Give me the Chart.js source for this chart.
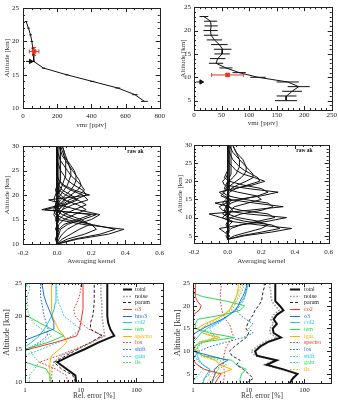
<!DOCTYPE html>
<html>
<head>
<meta charset="utf-8">
<title>vmr profiles, averaging kernels and error budgets</title>
<script src="https://cdn.jsdelivr.net/npm/chart.js@4.4.1/dist/chart.umd.min.js"></script>
<style>
  body { margin: 0; background: #fff; }
  #wrap { position: relative; width: 338px; height: 401px; overflow: hidden; background: #fff; }
  canvas { position: absolute; }
</style>
</head>
<body>
<div id="wrap">
  <canvas id="vmrLeft"></canvas>
  <canvas id="vmrRight"></canvas>
  <canvas id="akLeft"></canvas>
  <canvas id="akRight"></canvas>
  <canvas id="errLeft"></canvas>
  <canvas id="errRight"></canvas>
</div>
<script>
"use strict";

// ---------- top row: vmr profiles ----------
const vmrAltL = [23, 22, 21, 20, 19, 18, 17, 16, 15, 14, 13, 12, 11];
const vmrL = [18, 32, 44, 52, 57, 60, 63, 120, 255, 405, 555, 655, 710];
const vmrErrL = [8, 8, 8, 8, 8, 8, 8, 10, 10, 12, 14, 16, 20];
const satL = { x: [65], y: [18.5], xErr: [28], yErr: [0.6] };
const arrowL = { x: [18, 45], y: [17, 17] };

const vmrAltR = [23, 22, 21, 20, 19, 18, 17, 16, 15, 14, 13, 12, 11, 10, 9, 8, 7, 6, 5];
const vmrR = [18, 30, 31, 30, 31, 37, 46, 52, 51, 43, 40, 58, 82, 116, 170, 190, 178, 168, 167];
const vmrErrR = [8, 12, 12, 13, 13, 14, 15, 16, 14, 14, 13, 12, 12, 14, 20, 20, 18, 18, 20];
const satR = { x: [61], y: [10.5], xErr: [29], yErr: [0.25] };
const arrowR = { x: [4, 13], y: [9, 9] };

const vmrTicksL = [0, 200, 400, 600, 800];
const vmrTicksR = [0, 50, 100, 150, 200, 250];

// ---------- middle row: averaging kernels ----------
const akAltL = [10, 11, 12, 13, 14, 15, 16, 17, 18, 19, 20, 21, 22, 23, 24, 25, 26, 27, 28, 29, 30];
const akL = [
  [0, .12, .30, .39, .15, 0, -.02, -.01, 0, 0, 0, 0, 0, 0, 0, 0, 0, 0, 0, 0, 0],
  [0, .10, .25, .34, .20, .05, -.01, -.02, -.01, 0, 0, 0, 0, 0, 0, 0, 0, 0, 0, 0, 0],
  [0, .06, .16, .23, .20, .10, .03, -.01, -.01, 0, 0, 0, 0, 0, 0, 0, 0, 0, 0, 0, 0],
  [0, .03, .08, .13, .19, .14, .06, .01, 0, 0, 0, 0, 0, 0, 0, 0, 0, 0, 0, 0, 0],
  [0, .01, .03, .06, .11, .20, .25, .12, .01, -.02, -.01, 0, 0, 0, 0, 0, 0, 0, 0, 0, 0],
  [0, 0, .01, .02, .06, .15, .23, -.09, .02, .05, .02, 0, 0, 0, 0, 0, 0, 0, 0, 0, 0],
  [0, 0, 0, .01, .04, .12, .20, -.07, .05, .12, .08, .03, .01, 0, 0, 0, 0, 0, 0, 0, 0],
  [0, 0, 0, 0, .01, .04, .10, .17, .12, .04, 0, -.01, 0, 0, 0, 0, 0, 0, 0, 0, 0],
  [0, 0, 0, 0, 0, .01, .04, .10, .17, .12, .05, .01, 0, 0, 0, 0, 0, 0, 0, 0, 0],
  [0, 0, 0, 0, 0, 0, .01, .03, .05, -.05, .19, .10, .04, .01, 0, 0, 0, 0, 0, 0, 0],
  [0, 0, 0, 0, 0, 0, .01, .03, .09, .18, .15, .08, .03, .01, 0, 0, 0, 0, 0, 0, 0],
  [0, 0, 0, 0, 0, 0, 0, .01, .04, .10, .17, .15, .10, .06, .04, .02, .01, 0, 0, 0, 0],
  [0, 0, 0, 0, 0, 0, 0, .01, .03, .07, .13, .16, .14, .11, .08, .06, .04, .02, .01, 0, 0],
  [0, 0, 0, 0, 0, 0, 0, 0, .01, .04, .08, .12, .14, .13, .11, .09, .07, .05, .03, .02, .01],
  [0, 0, 0, 0, 0, 0, 0, 0, 0, .02, .05, .08, .10, .11, .11, .10, .08, .06, .04, .03, .02],
  [0, 0, 0, 0, 0, 0, 0, 0, 0, 0, .02, .04, .06, .07, .08, .08, .07, .06, .05, .04, .03],
  [0, 0, 0, 0, 0, 0, 0, 0, 0, 0, 0, .02, .03, .04, .05, .05, .05, .05, .04, .04, .03],
  [0, 0, .01, -.01, 0, .01, 0, -.01, 0, .01, .01, .01, .01, .02, .02, .02, .02, .02, .02, .02, .02],
  [0, -.01, 0, .01, 0, -.01, 0, 0, .01, 0, 0, .01, .01, .01, .01, .01, .01, .01, .01, .01, .01],
];

const akAltR = [4, 5, 6, 7, 8, 9, 10, 11, 12, 13, 14, 15, 16, 17, 18, 19, 20, 21, 22, 23, 24, 25, 26, 27, 28, 29, 30];
const akR = [
  [0, .10, .26, .38, .18, .01, -.03, -.01, 0, 0, 0, 0, 0, 0, 0, 0, 0, 0, 0, 0, 0, 0, 0, 0, 0, 0, 0],
  [0, .08, .20, .31, .26, .10, .01, -.03, -.01, 0, 0, 0, 0, 0, 0, 0, 0, 0, 0, 0, 0, 0, 0, 0, 0, 0, 0],
  [0, .04, .12, .20, .24, .18, .06, 0, -.02, -.01, 0, 0, 0, 0, 0, 0, 0, 0, 0, 0, 0, 0, 0, 0, 0, 0, 0],
  [0, .01, -.02, -.05, .08, .24, .35, .12, -.03, -.05, -.01, 0, 0, 0, 0, 0, 0, 0, 0, 0, 0, 0, 0, 0, 0, 0, 0],
  [0, 0, 0, .02, .08, .18, .28, .24, .08, -.01, -.03, -.01, 0, 0, 0, 0, 0, 0, 0, 0, 0, 0, 0, 0, 0, 0, 0],
  [0, 0, 0, 0, .01, .03, -.04, -.11, .12, .33, .16, .01, -.04, -.02, 0, 0, 0, 0, 0, 0, 0, 0, 0, 0, 0, 0, 0],
  [0, 0, 0, 0, 0, 0, .02, .08, .20, .27, .24, .10, 0, -.03, -.01, 0, 0, 0, 0, 0, 0, 0, 0, 0, 0, 0, 0],
  [0, 0, 0, 0, 0, 0, 0, 0, .02, .04, .12, .20, .17, .06, -.02, -.01, 0, 0, 0, 0, 0, 0, 0, 0, 0, 0, 0],
  [0, 0, 0, 0, 0, 0, 0, .01, .03, .01, -.075, .06, .20, .30, .12, -.02, -.03, -.01, 0, 0, 0, 0, 0, 0, 0, 0, 0],
  [0, 0, 0, 0, 0, 0, 0, 0, 0, 0, .02, .08, .18, .24, .20, .09, .01, -.02, -.01, 0, 0, 0, 0, 0, 0, 0, 0],
  [0, 0, 0, 0, 0, 0, 0, 0, 0, 0, .01, .02, -.02, -.05, .04, .15, .22, .16, .09, .05, .03, .01, 0, 0, 0, 0, 0],
  [0, 0, 0, 0, 0, 0, 0, 0, 0, 0, 0, 0, 0, .01, .05, .12, .19, .18, .14, .10, .07, .05, .03, .02, .01, 0, 0],
  [0, 0, 0, 0, 0, 0, 0, 0, 0, 0, 0, 0, 0, 0, .02, .06, .11, .15, .15, .13, .11, .09, .07, .05, .03, .02, .01],
  [0, 0, 0, 0, 0, 0, 0, 0, 0, 0, 0, 0, 0, 0, 0, .02, .05, .08, .10, .11, .11, .10, .09, .07, .05, .04, .03],
  [0, 0, 0, 0, 0, 0, 0, 0, 0, 0, 0, 0, 0, 0, 0, 0, .01, .03, .05, .06, .07, .07, .07, .06, .05, .04, .03],
  [0, .01, -.01, .01, 0, .01, -.01, .01, 0, -.01, .01, 0, .01, 0, .01, .01, .01, .01, .02, .02, .02, .02, .02, .02, .02, .02, .02],
  [0, -.01, .01, 0, -.01, 0, .01, -.01, 0, .01, -.01, .01, 0, 0, .01, 0, .01, .01, .01, .01, .01, .01, .01, .01, .01, .01, .01],
];
const akTicks = [-0.2, 0, 0.2, 0.4, 0.6];

// ---------- bottom row: relative errors [%] ----------
const errAltL = [10, 11, 12, 13, 14, 15, 16, 17, 18, 19, 20, 21, 22, 23, 24, 25];
const errL = {
  total:   [8.3, 8.0, 5.5, 3.8, 6.5, 12, 21, 40, 34, 31, 30, 30, 30, 30, 30, 30],
  noise:   [3.0, 3.0, 3.1, 3.3, 4.5, 9, 16, 27, 26, 25, 24, 24, 24, 23, 23, 23],
  param:   [8.0, 7.2, 4.5, 3.3, 5.5, 9, 15, 24, 15, 15, 16.5, 17, 17.5, 17.5, 17.5, 17.5],
  o3:      [0.5, 0.5, 0.5, 0.5, 0.5, 1.2, 3.5, 8.5, 9.5, 10, 10.5, 11, 11, 11, 11, 11],
  hno3:    [0.5, 0.5, 0.5, 0.5, 0.5, 0.5, 0.8, 1.6, 3.2, 3.3, 3.0, 2.7, 2.4, 2.2, 2.1, 2.0],
  col2:    [0.5, 0.5, 0.5, 0.5, 0.5, 0.9, 1.3, 1.8, 2.2, 2.6, 3.0, 3.3, 3.5, 3.6, 3.6, 3.6],
  tem:     [2.8, 2.8, 2.4, 1.0, 0.7, 1.0, 2.6, 5.0, 3.0, 1.8, 1.1, 0.8, 0.8, 0.9, 1.0, 1.1],
  spectro: [2.9, 2.8, 2.8, 2.8, 3.0, 4.2, 5.6, 5.0, 4.0, 3.5, 3.1, 3.0, 3.0, 3.0, 3.0, 3.0],
  los:     [5.8, 5.5, 3.5, 1.8, 4.0, 8.0, 15, 26, 14, 10, 8, 7.5, 8.5, 9.5, 10, 10],
  shift:   [0.5, 0.5, 0.5, 0.5, 0.8, 1.1, 1.8, 2.5, 2.6, 2.4, 2.2, 2.1, 2.0, 1.9, 1.9, 1.9],
  gain:    [0.5, 0.5, 0.5, 0.8, 1.0, 2.0, 4.0, 7.0, 10, 7, 5, 4.5, 4.0, 3.8, 3.7, 3.7],
  ils:     [1.2, 1.2, 1.5, 1.8, 1.4, 1.2, 2.0, 3.0, 2.0, 1.4, 1.2, 1.1, 1.1, 1.1, 1.2, 1.2],
};

const errAltR = [3, 4, 5, 6, 7, 8, 9, 10, 11, 12, 13, 14, 15, 16, 17, 18, 19, 20, 21, 22, 23, 24, 25];
const errR = {
  total:   [55, 62, 75, 42, 21, 32, 14, 13, 16, 22, 38, 28, 27, 32, 28, 32, 42, 36, 30, 30, 30, 30, 30],
  noise:   [54, 60, 72, 38, 19, 29, 13, 11, 14, 19, 32, 24, 24, 28, 25, 28, 35, 30, 26, 25, 25, 24, 24],
  param:   [9, 12, 10, 8, 6, 7, 5, 4.5, 5.5, 7, 9, 10, 9, 9.5, 10.5, 12, 13, 15, 17, 17.5, 18, 19, 19],
  co2:     [2.5, 2.8, 3.2, 1.6, 1.2, 1.0, 0.8, 0.8, 0.8, 0.8, 1.1, 0.8, 0.8, 0.8, 0.9, 1.0, 1.3, 1.4, 1.2, 1.1, 1.1, 1.1, 1.1],
  o3:      [2.2, 2.3, 2.5, 2.4, 3.0, 4.2, 2.0, 1.0, 0.8, 0.8, 0.9, 1.1, 1.5, 2.2, 3.3, 4.5, 5.8, 6.5, 7.0, 7.8, 8.5, 9.0, 9.5],
  col2:    [1.5, 1.6, 1.8, 2.0, 1.5, 1.3, 1.2, 1.1, 1.0, 1.0, 1.2, 1.4, 1.8, 2.5, 3.5, 4.5, 5.5, 6.5, 7.5, 8.5, 9.0, 9.5, 10],
  tem:     [7, 7, 7.5, 9, 6, 5, 1.5, 1.1, 1.0, 1.5, 5.5, 2.0, 1.1, 1.1, 1.2, 3.5, 7, 8.5, 4, 1.5, 0.9, 0.9, 0.9],
  tgas:    [2.2, 2.4, 3.0, 5.0, 3.0, 2.5, 1.5, 1.2, 1.1, 1.3, 3.0, 1.5, 1.2, 1.6, 2.5, 3.5, 4.5, 5.0, 5.5, 6.0, 6.3, 6.5, 6.5],
  spectro: [3.5, 3.6, 3.7, 3.6, 3.5, 3.5, 3.6, 3.7, 4.0, 4.5, 5.5, 5.0, 4.8, 4.5, 3.8, 3.5, 3.3, 3.2, 3.1, 3.1, 3.1, 3.2, 3.2],
  los:     [1.5, 1.6, 2.0, 2.0, 1.5, 1.2, 1.1, 1.3, 2.0, 4.0, 8.0, 12, 10, 12, 9, 7, 6, 7, 8, 8.5, 9, 9.2, 9.4],
  shift:   [1.0, 1.1, 1.3, 1.5, 1.2, 1.0, 1.1, 1.3, 1.2, 1.5, 2.5, 2.2, 2.0, 2.8, 3.5, 4.5, 5.0, 5.5, 6.0, 6.8, 7.5, 8.0, 8.2],
  gain:    [2.0, 2.3, 2.5, 2.8, 4.0, 3.0, 1.5, 1.2, 1.2, 1.6, 3.0, 2.0, 1.5, 1.8, 2.5, 3.5, 4.5, 5.0, 5.5, 6.0, 6.5, 7.0, 7.5],
  ils:     [1.8, 2.0, 2.2, 2.5, 3.5, 2.5, 1.3, 1.1, 1.1, 1.3, 2.5, 1.5, 1.4, 2.0, 2.8, 3.8, 4.8, 5.2, 5.8, 6.5, 7.0, 7.5, 8.0],
};
const errTicks = [1, 10, 100];
const logMinor = [2, 3, 4, 5, 6, 7, 8, 9, 20, 30, 40, 50, 60, 70, 80, 90, 200, 300];

// colours
const RED = "#ea3327", BLUE = "#1f6fd8", CYAN = "#1ec8e4", GREEN = "#2fd85a", ORANGE = "#ffb000";
const DOT = [1.6, 1.6], DASH = [3, 2];

Chart.defaults.font.family = '"Liberation Serif", "DejaVu Serif", serif';
Chart.defaults.color = "#222";

function every(from, to, step) {
  const out = [];
  for (let v = from; v <= to + 1e-9; v += step) out.push(+v.toFixed(4));
  return out;
}

// frame with inward ticks on all four sides (IDL look)
const boxTicks = {
  id: "boxTicks",
  afterDraw(chart, args, opts) {
    const { ctx, chartArea: a } = chart;
    const xs = chart.scales.x, ys = chart.scales.y;
    ctx.save();
    ctx.strokeStyle = "#222";
    ctx.lineWidth = 1;
    const mark = (scale, v, len) => {
      const p = Math.round(scale.getPixelForValue(v)) + 0.5;
      ctx.beginPath();
      if (scale.isHorizontal()) {
        ctx.moveTo(p, a.bottom); ctx.lineTo(p, a.bottom - len);
        ctx.moveTo(p, a.top); ctx.lineTo(p, a.top + len);
      } else {
        ctx.moveTo(a.left, p); ctx.lineTo(a.left + len, p);
        ctx.moveTo(a.right, p); ctx.lineTo(a.right - len, p);
      }
      ctx.stroke();
    };
    xs.ticks.forEach((t) => mark(xs, t.value, 4));
    ys.ticks.forEach((t) => mark(ys, t.value, 4));
    (opts.xMinor || []).forEach((v) => mark(xs, v, 2));
    (opts.yMinor || []).forEach((v) => mark(ys, v, 2));
    ctx.strokeRect(Math.round(a.left) + 0.5, Math.round(a.top) + 0.5, Math.round(a.width), Math.round(a.height));
    ctx.restore();
  },
};

// horizontal (and optional vertical) error bars, read from dataset.xErr / yErr
const errorBars = {
  id: "errorBars",
  afterDatasetsDraw(chart) {
    const { ctx } = chart;
    const xs = chart.scales.x, ys = chart.scales.y;
    ctx.save();
    chart.data.datasets.forEach((ds) => {
      if (!ds.xErr) return;
      const cap = ds.cap || 0;
      ctx.strokeStyle = ds.borderColor;
      ctx.lineWidth = 1;
      ds.data.forEach((p, i) => {
        const y = ys.getPixelForValue(p.y);
        const x0 = xs.getPixelForValue(p.x - ds.xErr[i]);
        const x1 = xs.getPixelForValue(p.x + ds.xErr[i]);
        ctx.beginPath();
        ctx.moveTo(x0, y); ctx.lineTo(x1, y);
        if (cap) {
          ctx.moveTo(x0, y - cap); ctx.lineTo(x0, y + cap);
          ctx.moveTo(x1, y - cap); ctx.lineTo(x1, y + cap);
        }
        if (ds.yErr) {
          const x = xs.getPixelForValue(p.x);
          const ya = ys.getPixelForValue(p.y - ds.yErr[i]);
          const yb = ys.getPixelForValue(p.y + ds.yErr[i]);
          ctx.moveTo(x, ya); ctx.lineTo(x, yb);
          ctx.moveTo(x - cap, ya); ctx.lineTo(x + cap, ya);
          ctx.moveTo(x - cap, yb); ctx.lineTo(x + cap, yb);
        }
        ctx.stroke();
      });
    });
    ctx.restore();
  },
};

// legend drawn inside the plot box, top right
const insideLegend = {
  id: "insideLegend",
  afterDraw(chart, args, opts) {
    if (!opts.show) return;
    const { ctx, chartArea: a } = chart;
    ctx.save();
    ctx.font = '6px "Liberation Serif", serif';
    ctx.textBaseline = "middle";
    chart.data.datasets.forEach((ds, i) => {
      const y = Math.round(a.top + opts.top + i * opts.step) + 0.5;
      ctx.strokeStyle = ds.borderColor;
      ctx.lineWidth = ds.borderWidth;
      ctx.setLineDash(ds.borderDash || []);
      ctx.beginPath();
      ctx.moveTo(a.right - opts.x0, y); ctx.lineTo(a.right - opts.x1, y);
      ctx.stroke();
      ctx.fillStyle = ds.labelColor || ds.borderColor;
      ctx.fillText(ds.label, a.right - opts.tx, y);
    });
    ctx.restore();
  },
};

// small bold tag in the upper right corner of the kernel plots
const cornerTag = {
  id: "cornerTag",
  afterDraw(chart, args, opts) {
    if (!opts.text) return;
    const { ctx, chartArea: a } = chart;
    ctx.save();
    ctx.font = 'bold 5.5px "Liberation Serif", serif';
    ctx.textAlign = "right";
    ctx.textBaseline = "middle";
    ctx.fillStyle = "#111";
    ctx.fillText(opts.text, a.right - 16, a.top + 6);
    ctx.restore();
  },
};

function axis(o) {
  return {
    type: o.type || "linear",
    min: o.min,
    max: o.max,
    afterFit(s) { if (s.isHorizontal()) s.height = o.size; else s.width = o.size; },
    afterBuildTicks(s) { s.ticks = o.ticks.map((v) => ({ value: v })); },
    grid: { display: false, drawTicks: false },
    border: { display: false },
    ticks: {
      autoSkip: false, maxRotation: 0, padding: o.pad, color: "#222",
      font: { size: 7 },
      callback: o.fmt || ((v) => String(v)),
    },
    title: {
      display: true, text: o.title, color: "#333",
      font: { size: o.titleSize || 7 },
      padding: o.titlePad,
    },
  };
}

function line(label, xs, ys, color, width, dash) {
  return {
    label,
    data: xs.map((v, i) => ({ x: v, y: ys[i] })),
    showLine: true,
    borderColor: color,
    backgroundColor: color,
    borderWidth: width,
    borderDash: dash || [],
    pointRadius: 0,
    tension: 0,
  };
}

function panel(id, box, datasets, xAxis, yAxis, plug) {
  const cv = document.getElementById(id);
  cv.width = box.w;
  cv.height = box.h;
  cv.style.left = box.left + "px";
  cv.style.top = box.top + "px";
  return new Chart(cv, {
    type: "scatter",
    data: { datasets },
    options: {
      responsive: false,
      animation: false,
      events: [],
      layout: { padding: { top: box.pt, right: box.pr, left: 0, bottom: 0 } },
      scales: { x: axis(xAxis), y: axis(yAxis) },
      plugins: Object.assign({ legend: { display: false }, tooltip: { enabled: false } }, plug),
    },
    plugins: [boxTicks, errorBars, insideLegend, cornerTag],
  });
}

function profileSets(alt, vmr, err, sat, arrow) {
  const prof = line("profile", vmr, alt, "#111", 1);
  prof.xErr = err;
  const s = line("satellite", sat.x, sat.y, RED, 1);
  s.showLine = false;
  s.pointStyle = "rect";
  s.pointRadius = 2.5;
  s.xErr = sat.xErr;
  s.yErr = sat.yErr;
  s.cap = 2;
  const ar = line("arrow", arrow.x, arrow.y, "#111", 1);
  ar.pointStyle = "triangle";
  ar.pointRadius = [0, 2.5];
  ar.rotation = 90;
  return [s, prof, ar];
}

// ---------- top row ----------
panel("vmrLeft", { left: 0, top: 0, w: 169, h: 129, pt: 8, pr: 6 },
  profileSets(vmrAltL, vmrL, vmrErrL, satL, arrowL),
  { min: 0, max: 800, ticks: vmrTicksL, size: 21, pad: 4, title: "vmr [pptv]", titlePad: { top: 0, bottom: 0 } },
  { min: 10, max: 25, ticks: [10, 15, 20, 25], size: 23, pad: 4, title: "Altitude [km]", titlePad: { top: 3, bottom: 0 } },
  { boxTicks: { xMinor: every(0, 800, 50), yMinor: every(10, 25, 1) } });

panel("vmrRight", { left: 176, top: 0, w: 162, h: 129, pt: 7, pr: 5 },
  profileSets(vmrAltR, vmrR, vmrErrR, satR, arrowR),
  { min: 0, max: 250, ticks: vmrTicksR, size: 19, pad: 1, title: "vmr [pptv]", titlePad: { top: 0, bottom: 2 } },
  { min: 3, max: 25, ticks: [5, 10, 15, 20, 25], size: 18, pad: 3, title: "Altitude [km]", titlePad: { top: 3, bottom: 0 } },
  { boxTicks: { xMinor: every(0, 250, 10), yMinor: every(3, 25, 1) } });

// ---------- middle row ----------
const akFmt = (v) => v.toFixed(1);
panel("akLeft", { left: 0, top: 130, w: 169, h: 136, pt: 16, pr: 6 },
  akL.map((k, i) => line("ak" + i, k, akAltL, "#111", 1)),
  { min: -0.2, max: 0.6, ticks: akTicks, size: 22, pad: 5, fmt: akFmt, title: "Averaging kernel", titlePad: { top: 0, bottom: 1 } },
  { min: 10, max: 30, ticks: [10, 15, 20, 25, 30], size: 23, pad: 4, title: "Altitude [km]", titlePad: { top: 3, bottom: 0 } },
  { boxTicks: { xMinor: every(-0.2, 0.6, 0.05), yMinor: every(10, 30, 1) }, cornerTag: { text: "raw ak" } });

panel("akRight", { left: 172, top: 130, w: 166, h: 136, pt: 15, pr: 6 },
  akR.map((k, i) => line("ak" + i, k, akAltR, "#111", 1)),
  { min: -0.2, max: 0.6, ticks: akTicks, size: 23, pad: 5, fmt: akFmt, title: "Averaging kernel", titlePad: { top: 0, bottom: 1 } },
  { min: 3, max: 30, ticks: [5, 10, 15, 20, 25, 30], size: 22, pad: 2, title: "Altitude [km]", titlePad: { top: 4, bottom: 0 } },
  { boxTicks: { xMinor: every(-0.2, 0.6, 0.05), yMinor: every(3, 30, 1) }, cornerTag: { text: "raw ak" } });

// ---------- bottom row ----------
function errSets(e, alt, names) {
  const styles = {
    total: ["#111", 2, []], noise: ["#9a9a9a", 1.5, DOT], param: ["#222", 1, DASH],
  };
  return names.map(([name, color, dash]) => {
    const st = styles[name] || [color, 1, dash];
    const ds = line(name, e[name], alt, st[0], st[1], st[2]);
    if (styles[name]) ds.labelColor = "#222";
    return ds;
  });
}

const legendOpts = { show: true, top: 6, step: 6.67, x0: 40, x1: 31, tx: 28 };

panel("errLeft", { left: 0, top: 266, w: 169, h: 135, pt: 17, pr: 6 },
  errSets(errL, errAltL, [
    ["total"], ["noise"], ["param"],
    ["o3", RED, []], ["hno3", BLUE, []], ["col2", CYAN, []], ["tem", GREEN, []], ["spectro", ORANGE, []],
    ["los", RED, DOT], ["shift", BLUE, DOT], ["gain", CYAN, DOT], ["ils", GREEN, DOT],
  ]),
  { type: "logarithmic", min: 1, max: 300, ticks: errTicks, size: 19, pad: 4, title: "Rel. error [%]", titleSize: 7.5, titlePad: { top: 0, bottom: 0 } },
  { min: 10, max: 25, ticks: [10, 15, 20, 25], size: 25, pad: 3, title: "Altitude [km]", titleSize: 8.5, titlePad: { top: 2, bottom: 0 } },
  { boxTicks: { xMinor: logMinor, yMinor: every(10, 25, 1) }, insideLegend: legendOpts });

panel("errRight", { left: 172, top: 266, w: 166, h: 135, pt: 17, pr: 7 },
  errSets(errR, errAltR, [
    ["total"], ["noise"], ["param"],
    ["co2", RED, []], ["o3", BLUE, []], ["col2", CYAN, []], ["tem", GREEN, []], ["tgas", ORANGE, []],
    ["spectro", RED, DOT], ["los", BLUE, DOT], ["shift", CYAN, DOT], ["gain", GREEN, DOT], ["ils", ORANGE, DOT],
  ]),
  { type: "logarithmic", min: 1, max: 300, ticks: errTicks, size: 18, pad: 3, title: "Rel. error [%]", titleSize: 7.5, titlePad: { top: 0, bottom: 0 } },
  { min: 3, max: 25, ticks: [5, 10, 15, 20, 25], size: 21, pad: 3, title: "Altitude [km]", titleSize: 8.5, titlePad: { top: 1, bottom: 0 } },
  { boxTicks: { xMinor: logMinor, yMinor: every(3, 25, 1) }, insideLegend: Object.assign({}, legendOpts, { x0: 41, tx: 27 }) });
</script>
</body>
</html>
